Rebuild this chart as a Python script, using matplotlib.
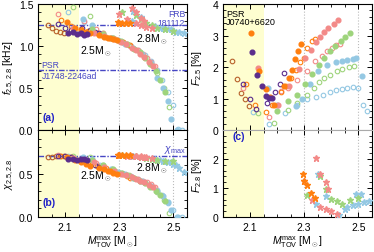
import matplotlib
matplotlib.use('Agg')
import matplotlib.pyplot as plt
from matplotlib.ticker import MultipleLocator

plt.rcParams['font.family'] = ['Liberation Sans', 'DejaVu Sans']
plt.rcParams['mathtext.fontset'] = 'custom'
plt.rcParams['mathtext.rm'] = 'Liberation Sans'
plt.rcParams['mathtext.it'] = 'Liberation Sans:italic'
plt.rcParams['font.size'] = 7.5

# colours of the EOS families
c_brown = '#b8612b'
c_purple = '#5b2d8c'
c_orange = '#ff7f0f'
c_pink = '#f38a88'
c_green = '#9ed47c'
c_blue = '#94c8e3'
c_line = '#4646c4'

# ---- 2.5 Msun circles: M_TOV, f_2.5 [kHz], chi_2.5, F_2.5 [%] ----
m_brown_o = [2.035, 2.053, 2.066, 2.081, 2.097]
f_brown_o = [1.25, 1.21, 1.18, 1.17, 1.16]
x_brown_o = [0.69, 0.695, 0.70, 0.70, 0.70]
F_brown_o = [2.19, 1.62, 1.19, 0.98, 0.77]

m_purple_f = [2.109, 2.127, 2.143, 2.158, 2.17, 2.18]
f_purple_f = [1.16, 1.17, 1.14, 1.15, 1.13, 1.14]
x_purple_f = [0.67, 0.665, 0.66, 0.665, 0.67, 0.66]
F_purple_f = [2.48, 1.74, 1.41, 1.09, 1.02, 1.03]

m_purple_o = [2.074, 2.10, 2.121, 2.162, 2.193, 2.21, 2.225]
f_purple_o = [1.26, 1.22, 1.19, 1.21, 1.19, 1.17, 1.15]
x_purple_o = [0.70, 0.70, 0.69, 0.65, 0.62, 0.60, 0.58]
F_purple_o = [1.45, 0.99, 0.66, 0.85, 1.22, 1.45, 1.82]

m_orange_f = [2.105, 2.135, 2.16, 2.175, 2.19, 2.225, 2.245, 2.257, 2.265, 2.278, 2.29]
f_orange_f = [1.29, 1.22, 1.19, 1.17, 1.16, 1.13, 1.11, 1.10, 1.09, 1.08, 1.07]
x_orange_f = [0.69, 0.66, 0.63, 0.61, 0.59, 0.565, 0.55, 0.535, 0.525, 0.51, 0.49]
F_orange_f = [3.08, 1.87, 1.30, 1.05, 0.80, 1.41, 1.66, 1.90, 2.25, 2.50, 2.74]

m_orange_o = [2.084, 2.12, 2.158, 2.183, 2.216, 2.232, 2.25, 2.27, 2.285, 2.30, 2.312, 2.328, 2.34]
f_orange_o = [1.31, 1.24, 1.20, 1.18, 1.15, 1.13, 1.11, 1.09, 1.08, 1.06, 1.05, 1.03, 1.01]
x_orange_o = [0.70, 0.69, 0.66, 0.63, 0.59, 0.575, 0.56, 0.545, 0.53, 0.51, 0.49, 0.47, 0.45]
F_orange_o = [1.45, 0.78, 0.57, 0.78, 1.20, 1.41, 1.64, 1.90, 2.15, 2.30, 2.60, 2.82, 2.88]

m_pink_f = [2.13, 2.205, 2.245, 2.28, 2.305, 2.325, 2.345, 2.36, 2.375, 2.39, 2.41, 2.425]
f_pink_f = [1.22, 1.16, 1.12, 1.08, 1.05, 1.02, 0.98, 0.95, 0.91, 0.87, 0.81, 0.76]
x_pink_f = [0.68, 0.63, 0.58, 0.53, 0.50, 0.48, 0.46, 0.44, 0.42, 0.40, 0.37, 0.35]
F_pink_f = [1.98, 0.78, 1.40, 1.95, 2.30, 2.55, 2.80, 2.95, 3.10, 3.25, 3.38, 3.50]

m_pink_o = [2.075, 2.17, 2.215, 2.24, 2.275, 2.312, 2.34, 2.368, 2.386, 2.402, 2.417, 2.432]
f_pink_o = [1.38, 1.30, 1.20, 1.15, 1.10, 1.05, 1.00, 0.95, 0.90, 0.86, 0.81, 0.76]
x_pink_o = [0.71, 0.68, 0.62, 0.58, 0.54, 0.50, 0.47, 0.44, 0.42, 0.40, 0.38, 0.35]
F_pink_o = [1.35, 0.43, 1.25, 1.35, 1.60, 1.87, 2.19, 2.36, 2.50, 2.61, 2.69, 2.74]

m_green_f = [2.20, 2.24, 2.275, 2.305, 2.33, 2.355, 2.375, 2.395, 2.415, 2.435, 2.452, 2.47]
f_green_f = [1.20, 1.14, 1.10, 1.06, 1.02, 0.97, 0.93, 0.86, 0.79, 0.70, 0.60, 0.45]
x_green_f = [0.66, 0.60, 0.55, 0.51, 0.48, 0.45, 0.42, 0.39, 0.35, 0.30, 0.25, 0.18]
F_green_f = [0.62, 0.92, 1.12, 1.45, 1.78, 2.05, 2.30, 2.50, 2.68, 2.82, 2.95, 3.07]

m_green_o = [2.13, 2.19, 2.24, 2.273, 2.31, 2.335, 2.355, 2.375, 2.395, 2.42, 2.44, 2.465, 2.485]
f_green_o = [1.46, 1.36, 1.16, 1.10, 1.05, 1.01, 0.97, 0.93, 0.87, 0.78, 0.68, 0.50, 0.28]
x_green_o = [0.70, 0.69, 0.60, 0.55, 0.51, 0.48, 0.45, 0.42, 0.39, 0.34, 0.29, 0.20, 0.05]
F_green_o = [0.54, 0.22, 0.65, 0.85, 1.10, 1.35, 1.51, 1.65, 1.75, 1.86, 1.93, 2.00, 2.02]

m_blue_f = [2.165, 2.20, 2.27, 2.294, 2.32, 2.35, 2.385, 2.417, 2.44, 2.46, 2.48, 2.492, 2.513]
f_blue_f = [1.32, 1.25, 1.10, 1.07, 1.03, 0.98, 0.90, 0.80, 0.62, 0.50, 0.34, 0.13, 0.0]
x_blue_f = [0.69, 0.67, 0.55, 0.52, 0.49, 0.45, 0.41, 0.36, 0.30, 0.24, 0.17, 0.08, 0.0]
F_blue_f = [1.32, 0.78, 0.75, 1.00, 1.45, 1.87, 2.05, 2.17, 2.20, 2.22, 2.27, 2.30, 1.72]

m_blue_o = [2.11, 2.17, 2.23, 2.273, 2.31, 2.343, 2.37, 2.395, 2.417, 2.44, 2.458, 2.48, 2.50, 2.516, 2.532]
f_blue_o = [1.41, 1.29, 1.14, 1.10, 1.05, 1.00, 0.95, 0.89, 0.82, 0.72, 0.60, 0.45, 0.30, 0.01, 0.0]
x_blue_o = [0.70, 0.68, 0.60, 0.55, 0.51, 0.47, 0.44, 0.40, 0.36, 0.31, 0.25, 0.16, 0.08, 0.0, 0.0]
F_blue_o = [0.58, 0.19, 0.55, 0.80, 1.00, 1.06, 1.12, 1.20, 1.27, 1.30, 1.35, 1.38, 1.35, 0.78, 0.59]

# ---- 2.8 Msun stars: M_TOV, f_2.8, chi_2.8, F_2.8 ----
m_orange_s = [2.295, 2.30, 2.31, 2.325, 2.34]
f_orange_s = [1.29, 1.28, 1.28, 1.27, 1.27]
x_orange_s = [0.71, 0.71, 0.71, 0.71, 0.71]
F_orange_s = [1.50, 1.25, 1.10, 0.84, 0.67]

m_pink_s = [2.345, 2.36, 2.38, 2.39, 2.30, 2.33, 2.36, 2.38, 2.40, 2.42]
f_pink_s = [1.45, 1.40, 1.33, 1.30, 1.38, 1.32, 1.28, 1.25, 1.23, 1.21]
x_pink_s = [0.70, 0.70, 0.70, 0.69, 0.71, 0.70, 0.70, 0.69, 0.69, 0.68]
F_pink_s = [2.05, 1.50, 1.21, 0.98, 1.23, 0.60, 0.35, 0.29, 0.20, 0.12]

m_green_s = [2.31, 2.36, 2.38, 2.40, 2.42, 2.44, 2.47, 2.50]
f_green_s = [1.40, 1.37, 1.32, 1.28, 1.25, 1.22, 1.20, 1.18]
x_green_s = [0.71, 0.70, 0.69, 0.68, 0.67, 0.66, 0.65, 0.64]
F_green_s = [0.75, 1.40, 0.96, 0.64, 0.54, 0.45, 0.58, 0.67]

m_blue_s = [2.35, 2.38, 2.49, 2.51, 2.345, 2.43, 2.45, 2.46, 2.48, 2.50, 2.52, 2.54]
f_blue_s = [1.42, 1.35, 1.20, 1.17, 1.30, 1.24, 1.22, 1.21, 1.20, 1.18, 1.17, 1.16]
x_blue_s = [0.70, 0.69, 0.63, 0.60, 0.70, 0.67, 0.66, 0.65, 0.63, 0.61, 0.56, 0.52]
F_blue_s = [1.50, 0.73, 0.78, 0.81, 0.46, 0.08, 0.29, 0.35, 0.40, 0.46, 0.52, 0.55]

f_frb = 1.25
f_psr = 0.716
chi_max = 0.70

circles = [
    (m_brown_o, f_brown_o, x_brown_o, F_brown_o, c_brown, False),
    (m_blue_o, f_blue_o, x_blue_o, F_blue_o, c_blue, False),
    (m_green_o, f_green_o, x_green_o, F_green_o, c_green, False),
    (m_pink_o, f_pink_o, x_pink_o, F_pink_o, c_pink, False),
    (m_blue_f, f_blue_f, x_blue_f, F_blue_f, c_blue, True),
    (m_green_f, f_green_f, x_green_f, F_green_f, c_green, True),
    (m_pink_f, f_pink_f, x_pink_f, F_pink_f, c_pink, True),
    (m_orange_o, f_orange_o, x_orange_o, F_orange_o, c_orange, False),
    (m_orange_f, f_orange_f, x_orange_f, F_orange_f, c_orange, True),
    (m_purple_o, f_purple_o, x_purple_o, F_purple_o, c_purple, False),
    (m_purple_f, f_purple_f, x_purple_f, F_purple_f, c_purple, True),
]
stars = [
    (m_blue_s, f_blue_s, x_blue_s, F_blue_s, c_blue),
    (m_green_s, f_green_s, x_green_s, F_green_s, c_green),
    (m_pink_s, f_pink_s, x_pink_s, F_pink_s, c_pink),
    (m_orange_s, f_orange_s, x_orange_s, F_orange_s, c_orange),
]

fig = plt.figure(figsize=(3.74, 2.53), dpi=100)
axa = fig.add_axes([0.102, 0.482, 0.398, 0.498])
axb = fig.add_axes([0.102, 0.138, 0.398, 0.344])
axc = fig.add_axes([0.596, 0.482, 0.398, 0.498])
axd = fig.add_axes([0.596, 0.138, 0.398, 0.344])

def circ(ax, m, y, col, filled):
    if filled:
        ax.plot(m, y, 'o', ms=3.4, color=col, mec=col, ls='', zorder=4)
    else:
        ax.plot(m, y, 'o', ms=3.3, mfc='none', mec=col, mew=0.8, ls='', zorder=3)

def star(ax, m, y, col):
    ax.plot(m, y, '*', ms=4.6, color=col, mec=col, ls='', zorder=4)

for s in circles:
    circ(axa, s[0], s[1], s[4], s[5])
    circ(axb, s[0], s[2], s[4], s[5])
    circ(axc, s[0], s[3], s[4], s[5])
for s in stars:
    star(axa, s[0], s[1], s[4])
    star(axb, s[0], s[2], s[4])
    star(axd, s[0], s[3], s[4])

for ax in [axa, axb, axc, axd]:
    ax.set_xlim(2.0, 2.55)
    ax.axvspan(2.0, 2.152, color='#fefed0', zorder=0, lw=0)
    for xv in [2.3, 2.5]:
        ax.axvline(xv, color='#bbbbbb', ls=':', lw=0.8, zorder=1)
    ax.xaxis.set_minor_locator(MultipleLocator(0.05))
    ax.set_xticks([2.1, 2.3, 2.5])
    ax.tick_params(which='both', direction='in', top=True, right=True, labelsize=7.5)
    ax.tick_params(which='major', length=3.5, width=0.7)
    ax.tick_params(which='minor', length=2, width=0.6)
    for sp in ax.spines.values():
        sp.set_linewidth(0.8)

for ax in [axa, axc]:
    ax.tick_params(labelbottom=False)

# (a)
axa.set_ylim(0, 1.5)
axa.set_yticks([0.0, 0.5, 1.0, 1.5])
axa.yaxis.set_minor_locator(MultipleLocator(0.1))
axa.axhline(f_frb, color=c_line, ls=(0, (4, 1.2, 1, 1.2)), lw=1.0, zorder=2)
axa.axhline(f_psr, color=c_line, ls=(0, (4, 1.2, 1, 1.2)), lw=1.0, zorder=2)
axa.text(2.543, 1.39, 'FRB', color=c_line, ha='right', va='center', fontsize=6.2)
axa.text(2.543, 1.285, '181112', color=c_line, ha='right', va='center', fontsize=6.2)
axa.text(2.012, 0.78, 'PSR', color=c_line, ha='left', va='center', fontsize=6.2)
axa.text(2.012, 0.655, 'J1748-2246ad', color=c_line, ha='left', va='center', fontsize=6.2)
axa.text(2.155, 0.94, '2.5M$_\\odot$', ha='left', va='center', fontsize=7.5)
axa.text(2.36, 1.08, '2.8M$_\\odot$', ha='left', va='center', fontsize=7.5)
axa.text(2.015, 0.16, '(a)', color='#2020c8', ha='left', va='center', fontsize=7.5, fontweight='bold')
axa.set_ylabel('$f_{2.5,2.8}$ [kHz]', labelpad=2)

# (b)
axb.set_ylim(0, 1.0)
axb.set_yticks([0.0, 0.5])
axb.yaxis.set_minor_locator(MultipleLocator(0.1))
axb.axhline(chi_max, color=c_line, ls=(0, (4, 1.2, 1, 1.2)), lw=1.0, zorder=2)
axb.text(2.545, 0.715, '$\\chi_{\\rm max}$', color=c_line, ha='right', va='bottom', fontsize=7.5)
axb.text(2.155, 0.47, '2.5M$_\\odot$', ha='left', va='center', fontsize=7.5)
axb.text(2.36, 0.57, '2.8M$_\\odot$', ha='left', va='center', fontsize=7.5)
axb.text(2.015, 0.17, '(b)', color='#2020c8', ha='left', va='center', fontsize=7.5, fontweight='bold')
axb.set_ylabel('$\\chi_{2.5,2.8}$', labelpad=2)
axb.set_xlabel('$M_{\\rm TOV}^{\\rm max}$ [M$_\\odot$]', labelpad=1)

# (c) upper
axc.set_ylim(0, 4)
axc.set_yticks([0, 1, 2, 3, 4])
axc.yaxis.set_minor_locator(MultipleLocator(0.2))
axc.spines['bottom'].set_color('#aaaaaa')
axc.text(2.012, 3.85, 'PSR\nJ0740+6620', ha='left', va='top', fontsize=6.5, linespacing=0.95)
axc.set_ylabel('$F_{2.5}$ [%]', labelpad=6)

# (c) lower
axd.set_ylim(0, 3)
axd.set_yticks([0, 1, 2])
axd.yaxis.set_minor_locator(MultipleLocator(0.2))
axd.spines['top'].set_color('#aaaaaa')
axd.text(2.035, 2.78, '(c)', color='#2020c8', ha='left', va='center', fontsize=7.5, fontweight='bold')
axd.set_ylabel('$F_{2.8}$ [%]', labelpad=6)
axd.set_xlabel('$M_{\\rm TOV}^{\\rm max}$ [M$_\\odot$]', labelpad=1)

fig.savefig('out.png', dpi=100)
